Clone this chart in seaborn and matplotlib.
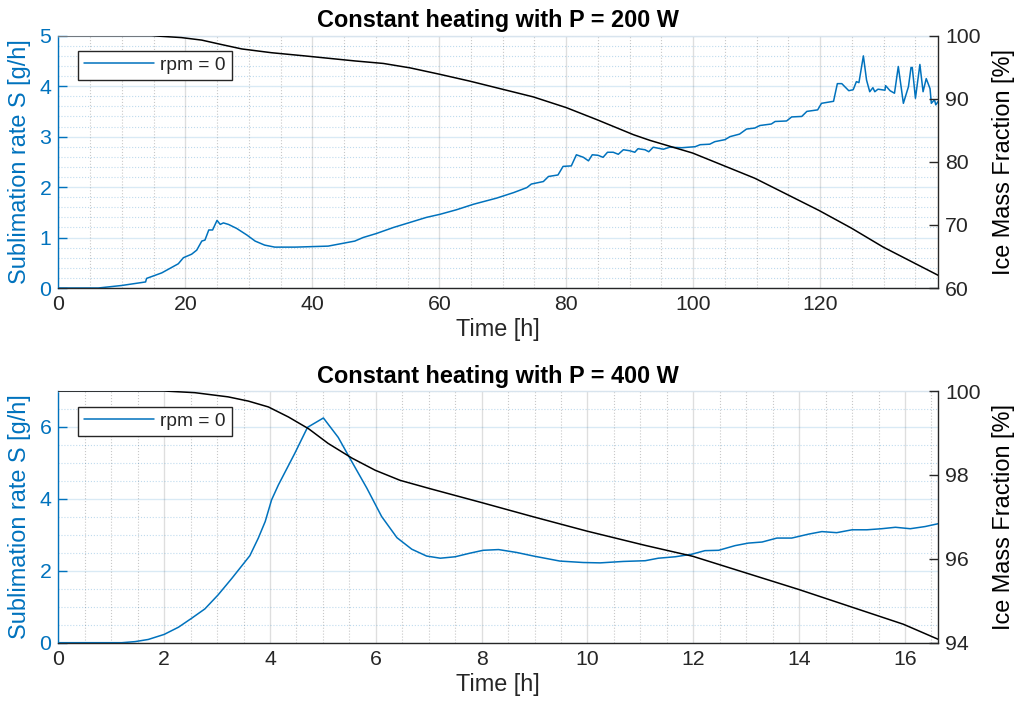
import numpy as np
import pandas as pd
import seaborn as sns
import matplotlib
matplotlib.use("Agg")
import matplotlib.pyplot as plt
from matplotlib.ticker import MultipleLocator

# ---------------- data: P = 200 W ----------------
t200_s = [0, 6.3, 10, 13.75, 13.9, 16.3, 18.9, 19.7, 21, 21.8, 22.6, 23.1, 23.7, 24.3, 25.0, 25.5,
          26, 26.8, 28.1, 29.7, 31, 32.5, 34.1, 37.3, 42.5, 44.6, 46.7, 48, 50.1, 52.8, 55.4, 58.0,
          60.1, 62.7, 65.4, 67.5, 69.0, 71.7, 73.8, 74.5, 76.4, 77.2, 78.7, 79.5, 80.8, 81.6, 82.7,
          83.5, 84.1, 85.0, 85.8, 86.5, 87.4, 88.2, 89.0, 90.0, 90.8, 91.3, 92.4, 93.0, 93.7, 95.3,
          96.3, 98.2, 100.3, 101.1, 102.6, 103.4, 105.0, 105.8, 107.3, 108.4, 109.7, 110.5, 112.3,
          112.9, 114.7, 115.5, 117.1, 117.9, 119.6, 120.2, 122.1, 122.7, 123.4, 124.5, 125.2, 125.7,
          126.1, 126.8, 127.3, 127.8, 128.3, 128.6, 129.1, 130.2, 130.3, 131.0, 131.7, 132.3, 133.1,
          133.9, 134.3, 134.5, 135.0, 135.7, 136.2, 136.7, 137.3, 137.5, 138.0, 138.2, 138.6]
s200 = [0, 0, 0.05, 0.12, 0.19, 0.30, 0.48, 0.60, 0.67, 0.75, 0.93, 0.95, 1.15, 1.15, 1.34, 1.26,
        1.29, 1.26, 1.18, 1.05, 0.93, 0.85, 0.81, 0.81, 0.83, 0.88, 0.93, 1.0, 1.08, 1.2, 1.30, 1.40,
        1.46, 1.55, 1.66, 1.73, 1.78, 1.89, 1.99, 2.06, 2.11, 2.21, 2.24, 2.41, 2.42, 2.64, 2.59,
        2.52, 2.64, 2.63, 2.59, 2.69, 2.69, 2.65, 2.74, 2.72, 2.69, 2.76, 2.74, 2.70, 2.79, 2.75,
        2.79, 2.78, 2.80, 2.84, 2.85, 2.90, 2.94, 3.00, 3.05, 3.15, 3.17, 3.22, 3.25,
        3.30, 3.31, 3.39, 3.40, 3.50, 3.53, 3.66, 3.70, 4.05, 4.05, 3.91, 3.93, 4.09,
        4.07, 4.60, 4.12, 3.89, 3.97, 3.89, 3.94, 3.92, 4.01, 3.91, 3.86, 4.39, 3.66,
        3.99, 4.37, 4.37, 3.76, 4.43, 3.89, 4.15, 3.95, 3.66, 3.73, 3.63, 3.70]
t200_m = [0, 14.7, 19.4, 22.6, 25.7, 28.9, 33.6, 38.8, 46.7, 51.2, 55.4, 60, 64.8, 69.6, 74.8, 80,
          84.8, 90.6, 93.2, 99.9, 109.7, 119.8, 124.9, 129.9, 138.6]
m200 = [100, 100, 99.7, 99.3, 98.6, 97.9, 97.3, 96.8, 96.0, 95.6, 94.9, 93.9, 92.8, 91.6, 90.3, 88.6,
        86.7, 84.3, 83.4, 81.4, 77.4, 72.3, 69.5, 66.5, 62.0]

# ---------------- data: P = 400 W ----------------
t400_s = [0, 1.2, 1.45, 1.70, 2.0, 2.27, 2.52, 2.77, 3.02, 3.28, 3.62, 3.78, 3.91, 4.03, 4.16, 4.47,
          4.71, 5.01, 5.29, 5.51, 5.83, 6.11, 6.40, 6.68, 6.96, 7.22, 7.50, 7.78, 8.03, 8.32, 8.66,
          8.98, 9.48, 9.92, 10.24, 10.68, 11.09, 11.34, 11.66, 11.97, 12.22, 12.48, 12.79, 13.04,
          13.30, 13.58, 13.86, 14.18, 14.43, 14.71, 15.0, 15.28, 15.56, 15.82, 16.10, 16.38, 16.63]
s400 = [0, 0, 0.03, 0.09, 0.23, 0.43, 0.68, 0.94, 1.33, 1.79, 2.42, 2.91, 3.37, 3.97, 4.39, 5.27,
        5.99, 6.25, 5.71, 5.13, 4.30, 3.51, 2.92, 2.60, 2.41, 2.35, 2.39, 2.49, 2.57, 2.59, 2.51,
        2.41, 2.27, 2.23, 2.22, 2.26, 2.28, 2.35, 2.39, 2.46, 2.56, 2.57, 2.70, 2.77,
        2.80, 2.91, 2.91, 3.02, 3.09, 3.06, 3.14, 3.14, 3.17, 3.21, 3.17, 3.23, 3.31]
t400_m = [0, 2.0, 2.58, 3.21, 3.59, 3.97, 4.35, 4.73, 5.10, 5.55, 5.99, 6.46, 7.03, 8.0, 8.98, 9.99,
          11.09, 11.99, 13.99, 15.97, 16.63]
m400 = [100, 100, 99.96, 99.86, 99.76, 99.62, 99.38, 99.10, 98.75, 98.40, 98.11, 97.87, 97.67, 97.34,
        97.0, 96.66, 96.32, 96.06, 95.27, 94.44, 94.08]

titles = ["Constant heating with P = 200 W", "Constant heating with P = 400 W"]
legend_label = "rpm = 0"
xlabel = "Time [h]"
ylabel_left = "Sublimation rate S [g/h]"
ylabel_right = "Ice Mass Fraction [%]"

sns.set_style("white")
plt.rcParams['font.family'] = ['Liberation Sans', 'DejaVu Sans']

BLUE = '#0072BD'
DARK = '#262626'
FIG_W, FIG_H = 1018, 709
fig = plt.figure(figsize=(FIG_W / 100, FIG_H / 100), dpi=100)

TICK_FS = 15.3
LAB_FS = 16.9
LEG_FS = 13.8


def panel(px_box, t_s, s, t_m, m, xmax, ylim, ymaj, ymin_, xmaj, xmin_, mlim, mmaj, title, leg_top):
    x0, y0, x1, y1 = px_box
    rect = [x0 / FIG_W, 1 - y1 / FIG_H, (x1 - x0) / FIG_W, (y1 - y0) / FIG_H]
    ax = fig.add_axes(rect)
    ax2 = ax.twinx()
    df_s = pd.DataFrame({"t": t_s, "S": s})
    df_m = pd.DataFrame({"t": t_m, "M": m})
    sns.lineplot(data=df_s, x="t", y="S", ax=ax, color=BLUE, lw=1.1, label=legend_label)
    sns.lineplot(data=df_m, x="t", y="M", ax=ax2, color='black', lw=1.1)

    ax.set_xlim(0, xmax)
    ax.set_ylim(*ylim)
    ax2.set_ylim(*mlim)
    ax.xaxis.set_major_locator(MultipleLocator(xmaj))
    ax.xaxis.set_minor_locator(MultipleLocator(xmin_))
    ax.yaxis.set_major_locator(MultipleLocator(ymaj))
    ax.yaxis.set_minor_locator(MultipleLocator(ymin_))
    ax2.yaxis.set_major_locator(MultipleLocator(mmaj))

    ax.grid(which='major', axis='x', color=DARK, alpha=0.15, lw=1.0, ls='-')
    ax.grid(which='minor', axis='x', color=DARK, alpha=0.25, lw=0.8, ls=':')
    ax.grid(which='major', axis='y', color=BLUE, alpha=0.15, lw=1.0, ls='-')
    ax.grid(which='minor', axis='y', color=BLUE, alpha=0.25, lw=0.8, ls=':')
    ax.set_axisbelow(True)

    ax.tick_params(axis='x', which='major', direction='in', length=6.5, width=1.0,
                   color=DARK, labelcolor=DARK, labelsize=TICK_FS, pad=5, top=False)
    ax.tick_params(axis='y', which='major', direction='in', length=6.5, width=1.0,
                   color=BLUE, labelcolor=BLUE, labelsize=TICK_FS, pad=5)
    ax.tick_params(which='minor', length=0)
    ax2.tick_params(axis='y', which='major', direction='in', length=6.5, width=1.0,
                    color=DARK, labelcolor=DARK, labelsize=TICK_FS, pad=5)
    ax2.tick_params(which='minor', length=0)

    for sp in ax.spines.values():
        sp.set_linewidth(1.0)
    ax.spines['left'].set_color(BLUE)
    ax.spines['bottom'].set_color(DARK)
    ax.spines['top'].set_color('#d8e4ee')
    ax.spines['right'].set_visible(False)
    for k in ['left', 'top', 'bottom']:
        ax2.spines[k].set_visible(False)
    ax2.spines['right'].set_color(DARK)
    ax2.spines['right'].set_linewidth(1.0)

    ax.set_xlabel(xlabel, fontsize=LAB_FS, color=DARK, labelpad=3)
    ax.set_ylabel(ylabel_left, fontsize=LAB_FS, color=BLUE, labelpad=6)
    ax2.set_ylabel(ylabel_right, fontsize=LAB_FS, color='black', labelpad=8)
    ax.set_title(title, fontsize=LAB_FS, fontweight='bold', color='black', pad=6)

    handles, labels = ax.get_legend_handles_labels()
    if ax.get_legend() is not None:
        ax.get_legend().remove()
    top_frac = 1 - (leg_top - y0) / (y1 - y0)
    lx = (78 - x0) / (x1 - x0)
    leg = ax2.legend(handles, labels, loc='upper left', bbox_to_anchor=(lx, top_frac),
                     borderaxespad=0, fontsize=LEG_FS, frameon=True, fancybox=False,
                     edgecolor=DARK, framealpha=1, handlelength=3.65, handletextpad=0.35,
                     borderpad=0.3)
    leg.get_frame().set_linewidth(1.0)
    return ax, ax2


panel((58.3, 35.7, 938.3, 288.0), t200_s, s200, t200_m, m200, 138.6, (0, 5), 1, 0.2, 20, 5,
      (60, 100), 10, titles[0], 51)
panel((58.3, 391.0, 938.3, 642.7), t400_s, s400, t400_m, m400, 16.63, (0, 7), 2, 0.5, 2, 0.5,
      (94, 100), 2, titles[1], 407)

fig.savefig("out.png", dpi=100)
